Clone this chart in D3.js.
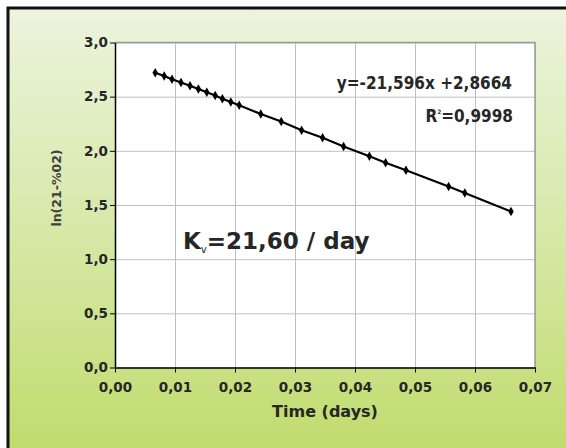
<!DOCTYPE html>
<html>
<head>
<meta charset="utf-8">
<script src="https://cdn.jsdelivr.net/npm/d3@7"></script>
<style>
    body { margin: 0; background: #fff; }
    svg { display: block; }
    .tick text { font-family: 'DejaVu Sans', sans-serif; font-weight: bold; font-size: 13.5px; fill: #262626; }
    .axis path, .axis line { stroke: #000; }
    .grid line { stroke: #c0c0c0; }
    .grid path { display: none; }
</style>
</head>
<body>
<svg width="566" height="448"></svg>
<script>
// data
var timeDays = [0.0067, 0.0082, 0.0095, 0.0110, 0.0125, 0.0139, 0.0153, 0.0167, 0.0179, 0.0193, 0.0207,
    0.0243, 0.0277, 0.0311, 0.0346, 0.0381, 0.0424, 0.0451, 0.0485, 0.0556, 0.0583, 0.0660];
var lnValues = [2.72, 2.69, 2.66, 2.63, 2.60, 2.57, 2.54, 2.51, 2.48, 2.45, 2.42,
    2.34, 2.27, 2.19, 2.12, 2.04, 1.95, 1.89, 1.82, 1.67, 1.61, 1.44];
var xTicks = [0, 0.01, 0.02, 0.03, 0.04, 0.05, 0.06, 0.07];
var yTicks = [0, 0.5, 1.0, 1.5, 2.0, 2.5, 3.0];
var equationLabel = 'y=-21,596x +2,8664';
var r2Label = '=0,9998';
var rateLabel = '=21,60 / day';

var svg = d3.select('svg');
var svgWidth = +svg.attr('width');
var svgHeight = +svg.attr('height');

var padding = {t: 42.5, r: 31, b: 80.5, l: 115};
var plotWidth = svgWidth - padding.l - padding.r;
var plotHeight = svgHeight - padding.t - padding.b;

// green background with the dark frame
var defs = svg.append('defs');
var grad = defs.append('linearGradient')
    .attr('id', 'bg')
    .attr('x1', 0).attr('y1', 0).attr('x2', 0).attr('y2', 1);
grad.append('stop').attr('offset', '0%').attr('stop-color', '#ecf4de');
grad.append('stop').attr('offset', '50%').attr('stop-color', '#d6e8a6');
grad.append('stop').attr('offset', '100%').attr('stop-color', '#bedb69');

svg.append('rect')
    .attr('x', 8).attr('y', 8)
    .attr('width', svgWidth + 10).attr('height', svgHeight + 10)
    .attr('fill', 'url(#bg)')
    .attr('stroke', '#111')
    .attr('stroke-width', 3);

var chart = svg.append('g')
    .attr('transform', 'translate(' + [padding.l, padding.t] + ')');

var xScale = d3.scaleLinear().domain([0, 0.07]).range([0, plotWidth]);
var yScale = d3.scaleLinear().domain([0, 3]).range([plotHeight, 0]);

chart.append('rect')
    .attr('width', plotWidth)
    .attr('height', plotHeight)
    .attr('fill', '#fff');

chart.append('g')
    .attr('class', 'grid')
    .call(d3.axisTop(xScale).tickValues(xTicks).tickSize(-plotHeight).tickFormat(''));

chart.append('g')
    .attr('class', 'grid')
    .call(d3.axisLeft(yScale).tickValues(yTicks).tickSize(-plotWidth).tickFormat(''));

// plot border top and right
chart.append('path')
    .attr('d', 'M0,0H' + plotWidth + 'V' + plotHeight)
    .attr('fill', 'none')
    .attr('stroke', '#9a9a9a')
    .attr('stroke-width', 1.5);

var fmt = function(n) { return function(d) { return d.toFixed(n).replace('.', ','); }; };

chart.append('g')
    .attr('class', 'x axis')
    .attr('transform', 'translate(0,' + plotHeight + ')')
    .call(d3.axisBottom(xScale).tickValues(xTicks).tickSize(5).tickSizeOuter(0).tickPadding(10).tickFormat(fmt(2)))
    .call(g => g.select('.domain').attr('stroke-width', 1.5));

chart.append('g')
    .attr('class', 'y axis')
    .call(d3.axisLeft(yScale).tickValues(yTicks).tickSize(5).tickSizeOuter(0).tickPadding(2).tickFormat(fmt(1)))
    .call(g => g.select('.domain').attr('stroke-width', 1.5));

var points = timeDays.map(function(t, i) { return {t: t, v: lnValues[i]}; });

var line = d3.line()
    .x(d => xScale(d.t))
    .y(d => yScale(d.v));

chart.append('path')
    .datum(points)
    .attr('d', line)
    .attr('fill', 'none')
    .attr('stroke', '#000')
    .attr('stroke-width', 2.2);

chart.selectAll('.marker')
    .data(points)
    .enter()
    .append('path')
    .attr('class', 'marker')
    .attr('d', d3.symbol().type(d3.symbolDiamond).size(26))
    .attr('transform', d => 'translate(' + [xScale(d.t), yScale(d.v)] + ')')
    .attr('fill', '#000');

// axis titles
svg.append('text')
    .attr('x', padding.l + plotWidth / 2)
    .attr('y', 417)
    .attr('text-anchor', 'middle')
    .style('font-family', 'DejaVu Sans, sans-serif')
    .style('font-weight', 'bold')
    .style('font-size', '16px')
    .attr('fill', '#262626')
    .text('Time (days)');

svg.append('text')
    .attr('transform', 'translate(61,188) rotate(-90)')
    .attr('text-anchor', 'middle')
    .style('font-family', 'DejaVu Sans, sans-serif')
    .style('font-weight', 'bold')
    .style('font-size', '12.5px')
    .attr('fill', '#404040')
    .text('ln(21-%02)');

// trendline annotation
svg.append('text')
    .attr('x', 512)
    .attr('y', 89)
    .attr('text-anchor', 'end')
    .style('font-family', 'DejaVu Sans Condensed, DejaVu Sans, sans-serif')
    .style('font-weight', 'bold')
    .style('font-size', '17px')
    .attr('fill', '#262626')
    .text(equationLabel);

var r2 = svg.append('text')
    .attr('x', 513)
    .attr('y', 122)
    .attr('text-anchor', 'end')
    .style('font-family', 'DejaVu Sans Condensed, DejaVu Sans, sans-serif')
    .style('font-weight', 'bold')
    .style('font-size', '17px')
    .attr('fill', '#262626');
r2.append('tspan').text('R');
r2.append('tspan').attr('dy', -8).style('font-size', '6px').text('2');
r2.append('tspan').attr('dy', 8).text(r2Label);

var kv = svg.append('text')
    .attr('x', 183)
    .attr('y', 249)
    .style('font-family', 'DejaVu Sans, sans-serif')
    .style('font-weight', 'bold')
    .style('font-size', '23px')
    .attr('fill', '#262626');
kv.append('tspan').text('K');
kv.append('tspan').attr('dy', 4).style('font-size', '10px').style('font-weight', 'normal').text('v');
kv.append('tspan').attr('dy', -4).text(rateLabel);
</script>
</body>
</html>
